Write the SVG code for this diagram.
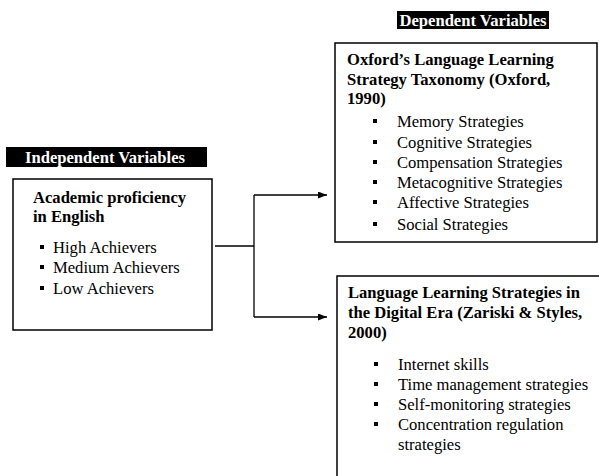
<svg xmlns="http://www.w3.org/2000/svg" width="599" height="476" viewBox="0 0 599 476">
<defs>
<style>
text{font-family:"Liberation Serif","Times New Roman",serif;fill:#000}
.h{font-weight:bold;font-size:16.6px}
.t{font-size:16.6px}
.lab{font-weight:bold;font-size:16.6px;fill:#fff}
.box{fill:#fff;stroke:#000;stroke-width:1.5}
.b{fill:#000}
.c{fill:none;stroke:#000;stroke-width:1.3}
</style>
<marker id="ar" markerWidth="9" markerHeight="7" refX="9" refY="3.5" orient="auto" markerUnits="userSpaceOnUse">
<path d="M0,0 L9,3.5 L0,7 Z" fill="#000"/>
</marker>
</defs>
<rect width="599" height="476" fill="#fff"/>
<g id="label-independent">
<rect x="6" y="147" width="201" height="20" fill="#000"/>
<text class="lab" x="105" y="162.5" text-anchor="middle">Independent Variables</text>
</g>
<g id="label-dependent">
<rect x="397" y="11" width="152" height="18" fill="#000"/>
<text class="lab" x="473" y="25.5" text-anchor="middle">Dependent Variables</text>
</g>
<g id="node-proficiency">
<rect class="box" x="13" y="179" width="199" height="151"/>
<text class="h" x="33" y="203">Academic proficiency</text>
<text class="h" x="33" y="222">in English</text>
<rect class="b" x="40" y="245" width="4" height="4"/>
<text class="t" x="53" y="253">High Achievers</text>
<rect class="b" x="40" y="265" width="4" height="4"/>
<text class="t" x="53" y="273">Medium Achievers</text>
<rect class="b" x="40" y="286" width="4" height="4"/>
<text class="t" x="53" y="294">Low Achievers</text>
</g>
<g id="node-oxford">
<rect class="box" x="335" y="43" width="262" height="199"/>
<text class="h" x="347" y="65">Oxford’s Language Learning</text>
<text class="h" x="347" y="85">Strategy Taxonomy (Oxford,</text>
<text class="h" x="347" y="104">1990)</text>
<rect class="b" x="373" y="119" width="4" height="4"/>
<text class="t" x="397" y="127">Memory Strategies</text>
<rect class="b" x="373" y="140" width="4" height="4"/>
<text class="t" x="397" y="148">Cognitive Strategies</text>
<rect class="b" x="373" y="160" width="4" height="4"/>
<text class="t" x="397" y="168">Compensation Strategies</text>
<rect class="b" x="373" y="180" width="4" height="4"/>
<text class="t" x="397" y="188">Metacognitive Strategies</text>
<rect class="b" x="373" y="200" width="4" height="4"/>
<text class="t" x="397" y="208">Affective Strategies</text>
<rect class="b" x="373" y="222" width="4" height="4"/>
<text class="t" x="397" y="230">Social Strategies</text>
</g>
<g id="node-digital">
<rect class="box" x="337" y="276" width="270" height="220"/>
<text class="h" x="348" y="298">Language Learning Strategies in</text>
<text class="h" x="348" y="318">the Digital Era (Zariski &amp; Styles,</text>
<text class="h" x="348" y="338">2000)</text>
<rect class="b" x="374" y="362" width="4" height="4"/>
<text class="t" x="398" y="370">Internet skills</text>
<rect class="b" x="374" y="382" width="4" height="4"/>
<text class="t" x="398" y="390">Time management strategies</text>
<rect class="b" x="374" y="402" width="4" height="4"/>
<text class="t" x="398" y="410">Self-monitoring strategies</text>
<rect class="b" x="374" y="422" width="4" height="4"/>
<text class="t" x="398" y="430">Concentration regulation</text>
<text class="t" x="398" y="450">strategies</text>
</g>
<g id="connectors">
<path class="c" d="M215,246 H254"/>
<path class="c" d="M254,195 V317"/>
<path class="c" d="M254,195 H327" marker-end="url(#ar)"/>
<path class="c" d="M254,317 H327" marker-end="url(#ar)"/>
</g>
</svg>
